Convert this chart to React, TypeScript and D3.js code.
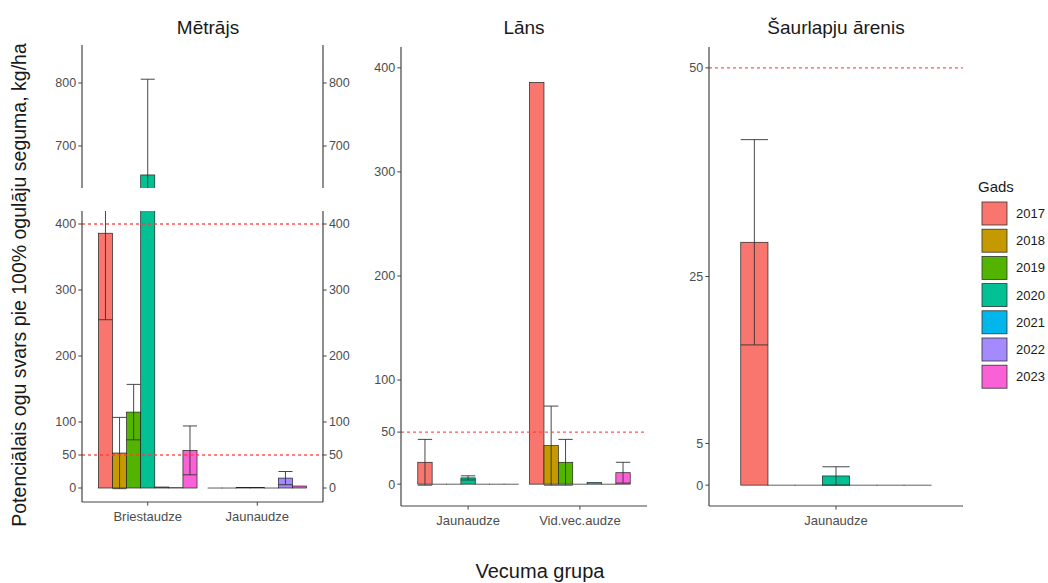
import React from "react";
import * as d3 from "d3";

// ---------------- DATA ----------------
const years = ["2017", "2018", "2019", "2020", "2021", "2022", "2023"];
const yearColors = ["#F8766D", "#C49A00", "#53B400", "#00C094", "#00B6EB", "#A58AFF", "#FB61D7"];

const facetNames = ["Mētrājs", "Lāns", "Šaurlapju ārenis"];

// Mētrājs
const metrajsGroups = ["Briestaudze", "Jaunaudze"];
const metrajsBriestaudzeMean = [386, 53, 115, 654, 1.5, 0.5, 57];
const metrajsBriestaudzeSd: (number | null)[] = [131, 54, 42, 152, null, null, 37];
const metrajsJaunaudzeMean = [0, 0, 0.6, 0.6, 0, 15, 3];
const metrajsJaunaudzeSd: (number | null)[] = [null, null, null, null, null, 10, null];

// Lāns
const lansGroups = ["Jaunaudze", "Vid.vec.audze"];
const lansJaunaudzeMean = [21, 0, 0, 6, 0, 0, 0];
const lansJaunaudzeSd: (number | null)[] = [22, null, null, 2, null, null, null];
const lansVidvecMean = [386, 37, 21, 0, 1.5, 0, 11];
const lansVidvecSd: (number | null)[] = [null, 38, 22, null, null, null, 10];

// Šaurlapju ārenis
const saurGroups = ["Jaunaudze"];
const saurJaunaudzeMean = [29.1, 0, 0, 1.1, 0, 0, 0];
const saurJaunaudzeSd: (number | null)[] = [12.3, null, null, 1.1, null, null, null];

const metrajsLowerTicks = [0, 50, 100, 200, 300, 400];
const metrajsUpperTicks = [700, 800];
const lansTicks = [0, 50, 100, 200, 300, 400];
const saurTicks = [0, 5, 25, 50];
const metrajsRefLines = [400, 50];
const lansRefLines = [50];
const saurRefLines = [50];

const yTitle = "Potenciālais ogu svars pie 100% ogulāju seguma, kg/ha";
const xTitle = "Vecuma grupa";
const legendTitle = "Gads";

// ---------------- STYLE ----------------
const FONT = "'Liberation Sans', Arial, sans-serif";
const AXIS_COL = "#444";
const TICK_TXT = "#4D4D4D";
const TICK_LEN = 3.7;

type Section = { y: d3.ScaleLinear<number, number>; top: number; bottom: number; id: string };

function Marks({
  xPos, dodge, groups, means, sds, sec, refLines, x0, x1,
}: {
  xPos: d3.ScalePoint<string>; dodge: d3.ScaleBand<string>; groups: string[];
  means: number[][]; sds: (number | null)[][]; sec: Section; refLines: number[]; x0: number; x1: number;
}) {
  const y = sec.y;
  const bw = dodge.bandwidth();
  return (
    <g clipPath={`url(#${sec.id})`}>
      {groups.map((g, gi) =>
        years.map((yr, i) => {
          const m = means[gi][i];
          const bx = (xPos(g) as number) + (dodge(yr) as number);
          return (
            <rect key={`b${g}${yr}`} x={bx} width={bw}
              y={y(Math.max(0, m))} height={Math.max(0.01, Math.abs(y(0) - y(m)))}
              fill={yearColors[i]} stroke="#222" strokeWidth={0.7} />
          );
        })
      )}
      {groups.map((g, gi) =>
        years.map((yr, i) => {
          const m = means[gi][i];
          const s = sds[gi][i];
          if (s === null || s === undefined) return null;
          const bx = (xPos(g) as number) + (dodge(yr) as number);
          const cx = bx + bw / 2;
          return (
            <g key={`e${g}${yr}`} stroke="#333" strokeWidth={0.9}>
              <line x1={cx} x2={cx} y1={y(m - s)} y2={y(m + s)} />
              <line x1={bx} x2={bx + bw} y1={y(m - s)} y2={y(m - s)} />
              <line x1={bx} x2={bx + bw} y1={y(m + s)} y2={y(m + s)} />
            </g>
          );
        })
      )}
      {refLines.map((v) => (
        <line key={`r${v}`} x1={x0} x2={x1} y1={y(v)} y2={y(v)}
          stroke="#FF3B3B" strokeWidth={1.3} strokeDasharray="3,3" opacity={0.85} />
      ))}
    </g>
  );
}

function YAxis({ x, sec, ticks, side }: { x: number; sec: Section; ticks: number[]; side: "left" | "right" }) {
  const dir = side === "left" ? -1 : 1;
  return (
    <g>
      <line x1={x} x2={x} y1={sec.top} y2={sec.bottom} stroke={AXIS_COL} strokeWidth={1.2} />
      {ticks.map((t) => (
        <g key={t}>
          <line x1={x} x2={x + dir * TICK_LEN} y1={sec.y(t)} y2={sec.y(t)} stroke={AXIS_COL} strokeWidth={1} />
          <text x={x + dir * (TICK_LEN + 2.2)} y={sec.y(t)} dy="0.35em"
            textAnchor={side === "left" ? "end" : "start"} fontSize={12.5} fill={TICK_TXT} fontFamily={FONT}>
            {t}
          </text>
        </g>
      ))}
    </g>
  );
}

function XAxis({ xPos, groups, y, x0, x1 }: { xPos: d3.ScalePoint<string>; groups: string[]; y: number; x0: number; x1: number }) {
  return (
    <g>
      <line x1={x0} x2={x1} y1={y} y2={y} stroke={AXIS_COL} strokeWidth={1.2} />
      {groups.map((g) => (
        <g key={g}>
          <line x1={xPos(g)} x2={xPos(g)} y1={y} y2={y + TICK_LEN} stroke={AXIS_COL} strokeWidth={1} />
          <text x={xPos(g)} y={y + 18.5} textAnchor="middle" fontSize={13} fill={TICK_TXT} fontFamily={FONT}>{g}</text>
        </g>
      ))}
    </g>
  );
}

function makeDodge(xPos: d3.ScalePoint<string>) {
  const step = xPos.step();
  return d3.scaleBand<string>().domain(years).range([-0.45 * step, 0.45 * step]).paddingInner(0).paddingOuter(0);
}

export default function App() {
  // Panel 1: Mētrājs (broken axis)
  const p1x0 = 82, p1x1 = 323;
  const p1x = d3.scalePoint<string>().domain(metrajsGroups).range([p1x0, p1x1]).padding(0.6);
  const p1d = makeDodge(p1x);
  const p1Lower: Section = { y: d3.scaleLinear().domain([-21.2, 419.7]).range([502, 211]), top: 211, bottom: 502, id: "c1l" };
  const p1Upper: Section = { y: d3.scaleLinear().domain([633.3, 860.3]).range([188, 45]), top: 45, bottom: 188, id: "c1u" };
  const p1Means = [metrajsBriestaudzeMean, metrajsJaunaudzeMean];
  const p1Sds = [metrajsBriestaudzeSd, metrajsJaunaudzeSd];

  // Panel 2: Lāns
  const p2x0 = 401, p2x1 = 647;
  const p2x = d3.scalePoint<string>().domain(lansGroups).range([p2x0, p2x1]).padding(0.6);
  const p2d = makeDodge(p2x);
  const p2Sec: Section = { y: d3.scaleLinear().domain([-21, 420]).range([506, 47]), top: 47, bottom: 506, id: "c2" };
  const p2Means = [lansJaunaudzeMean, lansVidvecMean];
  const p2Sds = [lansJaunaudzeSd, lansVidvecSd];

  // Panel 3: Šaurlapju ārenis
  const p3x0 = 709, p3x1 = 963;
  const p3x = d3.scalePoint<string>().domain(saurGroups).range([p3x0, p3x1]).padding(0.6);
  const p3d = makeDodge(p3x);
  const p3Sec: Section = { y: d3.scaleLinear().domain([-2.5, 52.5]).range([506, 47]), top: 47, bottom: 506, id: "c3" };
  const p3Means = [saurJaunaudzeMean];
  const p3Sds = [saurJaunaudzeSd];

  const clips = [
    { s: p1Lower, x0: p1x0, x1: p1x1 },
    { s: p1Upper, x0: p1x0, x1: p1x1 },
    { s: p2Sec, x0: p2x0, x1: p2x1 },
    { s: p3Sec, x0: p3x0, x1: p3x1 },
  ];

  const titleX = [208, (p2x0 + p2x1) / 2, (p3x0 + p3x1) / 2];

  return (
    <svg width={1048} height={583} style={{ position: "absolute", left: 0, top: 0, background: "#fff" }} fontFamily={FONT}>
      <defs>
        {clips.map(({ s, x0, x1 }) => (
          <clipPath id={s.id} key={s.id}>
            <rect x={x0} y={s.top} width={x1 - x0} height={s.bottom - s.top} />
          </clipPath>
        ))}
      </defs>
      <rect x={0} y={0} width={1048} height={583} fill="#fff" />

      {/* Panel 1 */}
      <Marks xPos={p1x} dodge={p1d} groups={metrajsGroups} means={p1Means} sds={p1Sds} sec={p1Lower} refLines={metrajsRefLines} x0={p1x0} x1={p1x1} />
      <Marks xPos={p1x} dodge={p1d} groups={metrajsGroups} means={p1Means} sds={p1Sds} sec={p1Upper} refLines={[]} x0={p1x0} x1={p1x1} />
      <YAxis x={p1x0} sec={p1Lower} ticks={metrajsLowerTicks} side="left" />
      <YAxis x={p1x1} sec={p1Lower} ticks={metrajsLowerTicks} side="right" />
      <YAxis x={p1x0} sec={p1Upper} ticks={metrajsUpperTicks} side="left" />
      <YAxis x={p1x1} sec={p1Upper} ticks={metrajsUpperTicks} side="right" />
      <XAxis xPos={p1x} groups={metrajsGroups} y={502} x0={p1x0} x1={p1x1} />

      {/* Panel 2 */}
      <Marks xPos={p2x} dodge={p2d} groups={lansGroups} means={p2Means} sds={p2Sds} sec={p2Sec} refLines={lansRefLines} x0={p2x0} x1={p2x1} />
      <YAxis x={p2x0} sec={p2Sec} ticks={lansTicks} side="left" />
      <XAxis xPos={p2x} groups={lansGroups} y={506} x0={p2x0} x1={p2x1} />

      {/* Panel 3 */}
      <Marks xPos={p3x} dodge={p3d} groups={saurGroups} means={p3Means} sds={p3Sds} sec={p3Sec} refLines={saurRefLines} x0={p3x0} x1={p3x1} />
      <YAxis x={p3x0} sec={p3Sec} ticks={saurTicks} side="left" />
      <XAxis xPos={p3x} groups={saurGroups} y={506} x0={p3x0} x1={p3x1} />

      {/* Titles */}
      {facetNames.map((n, i) => (
        <text key={n} x={titleX[i]} y={34} textAnchor="middle" fontSize={19} fill="#1a1a1a">{n}</text>
      ))}
      <text transform="translate(26,285) rotate(-90)" textAnchor="middle" fontSize={19.5} fill="#1a1a1a">{yTitle}</text>
      <text x={540} y={578} textAnchor="middle" fontSize={20} fill="#1a1a1a">{xTitle}</text>

      {/* Legend */}
      <text x={978} y={192} fontSize={15} fill="#1a1a1a">{legendTitle}</text>
      {years.map((yr, i) => {
        const ky = 202 + i * 27.2;
        return (
          <g key={yr}>
            <rect x={982} y={ky} width={25} height={23} fill={yearColors[i]} stroke="#333" strokeWidth={0.8} />
            <text x={1016} y={ky + 11.5} dy="0.35em" fontSize={13} fill="#1a1a1a">{yr}</text>
          </g>
        );
      })}
    </svg>
  );
}
